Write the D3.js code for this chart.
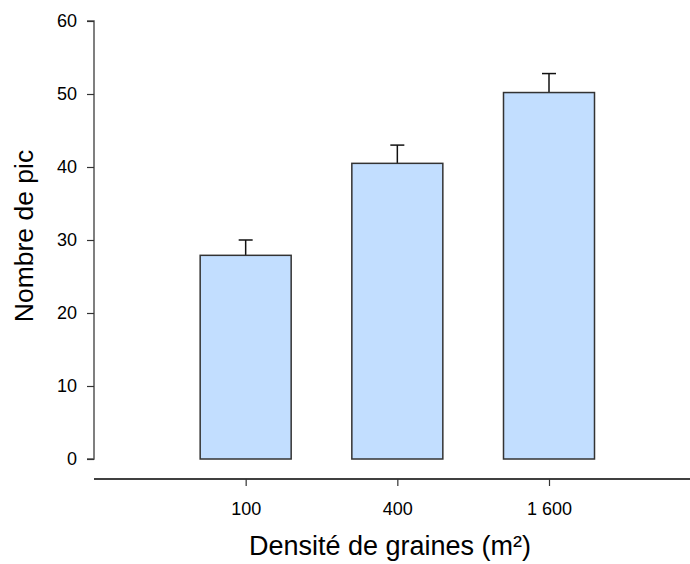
<!DOCTYPE html>
<html>
<head>
<meta charset="utf-8">
<script src="https://cdn.jsdelivr.net/npm/d3@7"></script>
<style>
  html, body { margin: 0; padding: 0; background: #fff; }
  svg { display: block; }
  text { font-family: "Liberation Sans", Arial, sans-serif; fill: #000; }
</style>
</head>
<body>
<svg id="chart" width="690" height="564"></svg>
<script>
const categories = ["100", "400", "1 600"];
const means = [27.9, 40.5, 50.2];
const errors = [2.1, 2.5, 2.6];
const yTicks = [0, 10, 20, 30, 40, 50, 60];

const svg = d3.select("#chart");

// x positions: category index -> pixel
const x = d3.scaleLinear().domain([-1, 2]).range([94, 549]);
const y = d3.scaleLinear().domain([0, 60]).range([459, 21]);
const barW = 91;

// Y axis
const yAxis = d3.axisLeft(y).tickValues(yTicks).tickSize(7).tickPadding(10).tickFormat(d3.format("d"));
const gy = svg.append("g").attr("transform", "translate(94,0)").call(yAxis);
gy.select(".domain").attr("stroke", "#555").attr("stroke-width", 1.5).attr("d", `M-7,${y(60)}H0V${y(0)}H-7`);
gy.selectAll(".tick line").attr("stroke", "#333").attr("stroke-width", 1.2);
gy.selectAll(".tick text").style("font-size", "18px").style("font-family", "Liberation Sans, Arial, sans-serif").attr("fill", "#000");

// X axis
const xAxis = d3.axisBottom(x).tickValues([0, 1, 2]).tickFormat(i => categories[i]).tickSize(7).tickPadding(16).tickSizeOuter(0);
const gx = svg.append("g").attr("transform", "translate(0,479)").call(xAxis);
gx.select(".domain").attr("stroke", "#000").attr("stroke-width", 1.5).attr("d", `M94,0H690`);
gx.selectAll(".tick line").attr("stroke", "#333").attr("stroke-width", 1.2);
gx.selectAll(".tick text").style("font-size", "18px").style("font-family", "Liberation Sans, Arial, sans-serif").attr("fill", "#000");

// Error bars
const eb = svg.append("g");
categories.forEach((c, i) => {
  const cx = x(i);
  eb.append("line").attr("x1", cx).attr("x2", cx).attr("y1", y(means[i])).attr("y2", y(means[i] + errors[i]))
    .attr("stroke", "#111").attr("stroke-width", 1.5);
  eb.append("line").attr("x1", cx - 7).attr("x2", cx + 7).attr("y1", y(means[i] + errors[i])).attr("y2", y(means[i] + errors[i]))
    .attr("stroke", "#111").attr("stroke-width", 1.5);
});

// Bars
svg.append("g").selectAll("rect").data(means).join("rect")
  .attr("x", (d, i) => x(i) - barW / 2)
  .attr("width", barW)
  .attr("y", d => y(d))
  .attr("height", d => y(0) - y(d))
  .attr("fill", "#c2deff")
  .attr("stroke", "#333")
  .attr("stroke-width", 1.5);

// Titles
svg.append("text").attr("x", 390).attr("y", 555).attr("text-anchor", "middle")
  .style("font-size", "27px").text("Densité de graines (m²)");
svg.append("text").attr("transform", "translate(33,236) rotate(-90)").attr("text-anchor", "middle")
  .style("font-size", "26.5px").text("Nombre de pic");
</script>
</body>
</html>
